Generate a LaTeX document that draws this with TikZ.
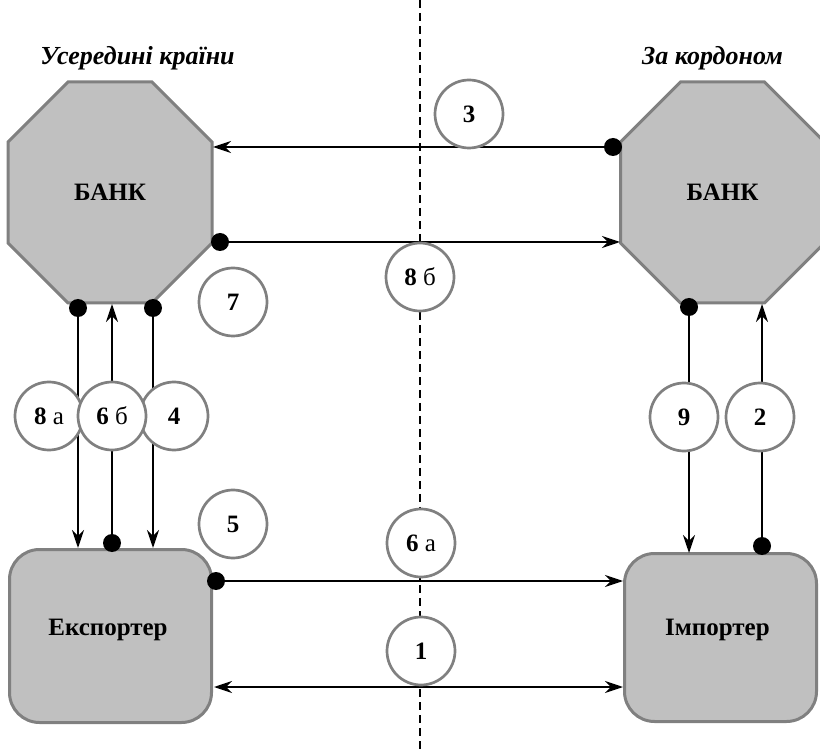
\documentclass[tikz,border=0pt]{standalone}
\usepackage{fontspec}
\setmainfont{Liberation Serif}
\usetikzlibrary{arrows.meta}
\definecolor{shapefill}{HTML}{C0C0C0}
\definecolor{edgegray}{HTML}{808080}
\begin{document}
\begin{tikzpicture}[x=1pt,y=-1pt,
  tip/.tip={Stealth[length=18pt,width=12pt,inset=6pt]},
  flow/.style={line width=1.8pt,-tip},
  twoway/.style={line width=1.8pt,tip-tip},
  dot/.style={circle,fill=black,inner sep=0pt,minimum size=18pt},
  stage/.style={circle,draw=edgegray,line width=2.7pt,fill=white,
    minimum size=68pt,inner sep=0pt,font=\fontsize{25}{30}\selectfont},
  party/.style={rectangle,rounded corners=30pt,draw=edgegray,fill=shapefill,line width=3pt},
  shapetext/.style={inner sep=0pt,font=\fontsize{25}{30}\selectfont\bfseries},
  side/.style={inner sep=0pt,font=\fontsize{26}{30}\selectfont\bfseries\itshape},
  border/.style={line width=1.8pt,dash pattern=on 8pt off 5pt},
  bankshape/.pic={
    \draw[draw=edgegray,fill=shapefill,line width=3pt]
      (-42,-110.5) -- (42,-110.5) -- (102,-50.5) -- (102,50.5) -- (42,110.5)
      -- (-42,110.5) -- (-102,50.5) -- (-102,-50.5) -- cycle;}
]
\useasboundingbox (0,0) rectangle (820,751);

% border between the two countries
\coordinate (btop) at (420,0);
\coordinate (bbot) at (420,751);
\draw[border] (btop) -- (bbot);

% side headings
\node[side] (home) at (137.5,58) {Усередині країни};
\node[side] (abroad) at (712.5,58) {За кордоном};

% banks
\pic at (110,192.5) {bankshape};
\node[shapetext] (lbank) at (110,192.5) {БАНК};
\pic at (722.5,192.5) {bankshape};
\node[shapetext] (rbank) at (722.5,192.5) {БАНК};

% trading parties
\node[party,minimum width=202pt,minimum height=173pt] (exp) at (110.5,636) {};
\node[shapetext] (expname) at (108,630) {Експортер};
\node[party,minimum width=192pt,minimum height=168pt] (imp) at (720.5,637.5) {};
\node[shapetext] (impname) at (717.5,630) {Імпортер};

% connector end points
\coordinate (s3) at (613,147);   \coordinate (e3) at (213,147);
\coordinate (s8b) at (220,242);  \coordinate (e8b) at (620,242);
\coordinate (s8a) at (78,308);   \coordinate (e8a) at (78,548);
\coordinate (s6b) at (112,543);  \coordinate (e6b) at (112,304);
\coordinate (s4) at (153,308);   \coordinate (e4) at (153,548);
\coordinate (s9) at (689,307);   \coordinate (e9) at (689,553);
\coordinate (s2) at (762,546);   \coordinate (e2) at (762,304);
\coordinate (s6a) at (216,581);  \coordinate (e6a) at (623,581);
\coordinate (s1) at (214,687);   \coordinate (e1) at (623,687);

% flows
\draw[flow] (s3) -- (e3);
\draw[flow] (s8b) -- (e8b);
\draw[flow] (s8a) -- (e8a);
\draw[flow] (s6b) -- (e6b);
\draw[flow] (s4) -- (e4);
\draw[flow] (s9) -- (e9);
\draw[flow] (s2) -- (e2);
\draw[flow] (s6a) -- (e6a);
\draw[twoway] (s1) -- (e1);

% starting dots
\foreach \p in {s3,s8b,s8a,s6b,s4,s9,s2,s6a}
  \node[dot] at (\p) {};

% numbered stages
\node[stage] (n3) at (469,114) {\textbf{3}};
\node[stage] (n8b) at (420,277) {\textbf{8} б};
\node[stage] (n7) at (233,302) {\textbf{7}};
\node[stage] (n8a) at (49,416) {\textbf{8} а};
\node[stage] (n4) at (174,416) {\textbf{4}};
\node[stage] (n6b) at (112,416) {\textbf{6} б};
\node[stage] (n5) at (233,524) {\textbf{5}};
\node[stage] (n6a) at (421,543) {\textbf{6} а};
\node[stage] (n1) at (421,651) {\textbf{1}};
\node[stage] (n9) at (684,417) {\textbf{9}};
\node[stage] (n2) at (760,417) {\textbf{2}};
\end{tikzpicture}
\end{document}
